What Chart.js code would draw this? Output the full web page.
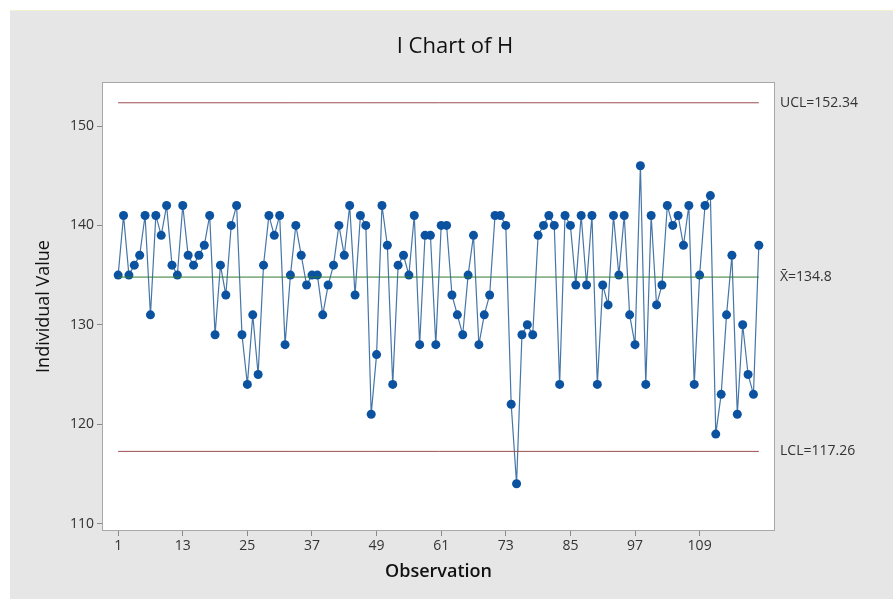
<!DOCTYPE html>
<html>
<head>
<meta charset="utf-8">
<script src="https://cdn.jsdelivr.net/npm/chart.js@4.4.1/dist/chart.umd.min.js"></script>
<style>
  html, body { margin: 0; padding: 0; background: #ffffff; }
  #wrap { width: 893px; height: 599px; position: relative; }
</style>
</head>
<body>
<div id="wrap"><canvas id="ichart" width="893" height="599"></canvas></div>
<script>
// ====== DATA ======
const observations = [];
for (let i = 1; i <= 120; i++) observations.push(i);

const values = [
  135, 141, 135, 136, 137, 141, 131, 141, 139, 142,
  136, 135, 142, 137, 136, 137, 138, 141, 129, 136,
  133, 140, 142, 129, 124, 131, 125, 136, 141, 139,
  141, 128, 135, 140, 137, 134, 135, 135, 131, 134,
  136, 140, 137, 142, 133, 141, 140, 121, 127, 142,
  138, 124, 136, 137, 135, 141, 128, 139, 139, 128,
  140, 140, 133, 131, 129, 135, 139, 128, 131, 133,
  141, 141, 140, 122, 114, 129, 130, 129, 139, 140,
  141, 140, 124, 141, 140, 134, 141, 134, 141, 124,
  134, 132, 141, 135, 141, 131, 128, 146, 124, 141,
  132, 134, 142, 140, 141, 138, 142, 124, 135, 142,
  143, 119, 123, 131, 137, 121, 130, 125, 123, 138
];

const ucl = 152.34;
const mean = 134.8;
const lcl = 117.26;

const xTicks = [1, 13, 25, 37, 49, 61, 73, 85, 97, 109];
const yTicks = [110, 120, 130, 140, 150];

const FONT = "'Open Sans', 'Noto Sans', sans-serif";

// ====== HELPERS ======
const points = observations.map((o, i) => ({ x: o, y: values[i] }));
const first = observations[0];
const last = observations[observations.length - 1];
const limitLine = (v) => [{ x: first, y: v }, { x: last, y: v }];

// ====== BACKGROUND / FRAME / LABELS ======
const decorPlugin = {
  id: "decor",
  beforeDraw(chart) {
    const { ctx, chartArea: a, width, height } = chart;
    ctx.save();
    ctx.fillStyle = "#ffffff";
    ctx.fillRect(0, 0, width, height);
    ctx.fillStyle = "#e6e6e6";
    ctx.fillRect(10, 11, width - 10, height - 11);
    ctx.fillStyle = "#f3efcf";
    ctx.fillRect(10, 10, width - 10, 1);
    ctx.fillStyle = "#ffffff";
    ctx.fillRect(a.left, a.top, a.right - a.left, a.bottom - a.top);
    ctx.restore();
  },
  afterDraw(chart) {
    const { ctx, chartArea: a } = chart;
    const y = chart.scales.y;
    ctx.save();
    ctx.strokeStyle = "#a8a8a8";
    ctx.lineWidth = 1;
    ctx.strokeRect(a.left + 0.5, a.top + 0.5, a.right - a.left - 1, a.bottom - a.top - 1);

    // title
    ctx.fillStyle = "#111111";
    ctx.font = "22px " + FONT;
    ctx.textAlign = "center";
    ctx.textBaseline = "middle";
    ctx.fillText("I Chart of H", 455, 47);

    // axis titles
    ctx.font = "600 18px " + FONT;
    ctx.fillText("Observation", (a.left + a.right) / 2, 572);
    ctx.save();
    ctx.translate(44, (a.top + a.bottom) / 2);
    ctx.rotate(-Math.PI / 2);
    ctx.font = "18px " + FONT;
    ctx.fillText("Individual Value", 0, 0);
    ctx.restore();

    // control limit labels
    ctx.font = "14px " + FONT;
    ctx.fillStyle = "#333333";
    ctx.textAlign = "left";
    ctx.fillText("UCL=" + ucl, a.right + 5, y.getPixelForValue(ucl));
    ctx.fillText("X\u0304=" + mean, a.right + 5, y.getPixelForValue(mean));
    ctx.fillText("LCL=" + lcl, a.right + 5, y.getPixelForValue(lcl));
    ctx.restore();
  }
};

// ====== CHART ======
new Chart(document.getElementById("ichart"), {
  type: "line",
  data: {
    datasets: [
      {
        label: "UCL",
        data: limitLine(ucl),
        borderColor: "#9c4f52",
        borderWidth: 1,
        pointRadius: 0
      },
      {
        label: "Mean",
        data: limitLine(mean),
        borderColor: "#2f7a34",
        borderWidth: 1,
        pointRadius: 0
      },
      {
        label: "LCL",
        data: limitLine(lcl),
        borderColor: "#9c4f52",
        borderWidth: 1,
        pointRadius: 0
      },
      {
        label: "H",
        data: points,
        borderColor: "#4676a8",
        borderWidth: 1.2,
        pointRadius: 4.5,
        pointBackgroundColor: "#0b52a0",
        pointBorderColor: "#0b52a0",
        pointBorderWidth: 0,
        tension: 0
      }
    ]
  },
  plugins: [decorPlugin],
  options: {
    responsive: false,
    animation: false,
    layout: { padding: { top: 82, right: 118, left: 0, bottom: 0 } },
    plugins: {
      legend: { display: false },
      tooltip: { enabled: false }
    },
    scales: {
      x: {
        type: "linear",
        min: -2,
        max: 123,
        afterBuildTicks: (s) => { s.ticks = xTicks.map(v => ({ value: v })); },
        afterFit: (s) => { s.height = 68; },
        grid: { drawOnChartArea: false, tickLength: 5, color: "#8a8a8a" },
        border: { display: false },
        ticks: { color: "#333333", font: { family: FONT, size: 14 }, padding: 2, maxRotation: 0 }
      },
      y: {
        min: 109.25,
        max: 154.43,
        afterBuildTicks: (s) => { s.ticks = yTicks.map(v => ({ value: v })); },
        afterFit: (s) => { s.width = 102; },
        grid: { drawOnChartArea: false, tickLength: 5, color: "#8a8a8a" },
        border: { display: false },
        ticks: { color: "#333333", font: { family: FONT, size: 14 }, padding: 3 }
      }
    }
  }
});
</script>
</body>
</html>
